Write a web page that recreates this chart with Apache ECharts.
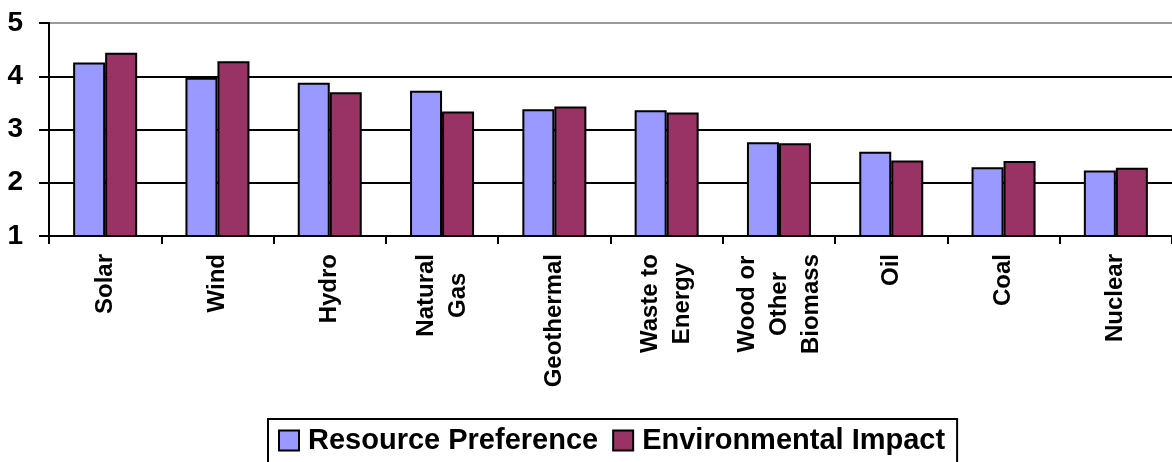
<!DOCTYPE html>
<html>
<head>
<meta charset="utf-8">
<title>Energy Resource Ratings</title>
<script src="https://cdn.jsdelivr.net/npm/echarts@6/dist/echarts.min.js"></script>
<style>
  html, body { margin: 0; padding: 0; background: #ffffff; }
  #chart { width: 1172px; height: 462px; }
</style>
</head>
<body>
<div id="chart"></div>
<script>
// Energy sources, in the order they are rated
const categories = ['Solar', 'Wind', 'Hydro', 'Natural\nGas', 'Geothermal', 'Waste to\nEnergy',
  'Wood or\nOther\nBiomass', 'Oil', 'Coal', 'Nuclear'];

// Mean ratings on a 1–5 scale
const resourcePreference = [4.26, 3.97, 3.88, 3.73, 3.38, 3.36, 2.76, 2.58, 2.29, 2.23];
const environmentalImpact = [4.44, 4.28, 3.70, 3.34, 3.43, 3.32, 2.74, 2.42, 2.41, 2.28];

const seriesNames = ['Resource Preference', 'Environmental Impact'];
const seriesColors = ['#9999ff', '#993366'];

const FONT = 'Arial, "Liberation Sans", sans-serif';

const chart = echarts.init(document.getElementById('chart'), null, { renderer: 'canvas' });

chart.setOption({
  animation: false,
  backgroundColor: '#ffffff',
  textStyle: { fontFamily: FONT },
  grid: { left: 49, top: 23, right: -10, bottom: 226, containLabel: false },
  legend: {
    left: 268,
    top: 419,
    orient: 'horizontal',
    padding: [7, 12, 30, 10],
    itemWidth: 20,
    itemHeight: 20,
    itemGap: 14,
    borderColor: '#000000',
    borderWidth: 2,
    textStyle: {
      fontFamily: FONT,
      fontSize: 29,
      fontWeight: 'bold',
      color: '#000000',
      padding: [0, 0, 0, 4]
    },
    data: seriesNames.map(n => ({ name: n, icon: 'rect' }))
  },
  xAxis: {
    type: 'category',
    data: categories,
    boundaryGap: true,
    axisLine: { show: true, lineStyle: { color: '#000000', width: 2 } },
    axisTick: { show: true, length: 8, lineStyle: { color: '#000000', width: 2 } },
    splitLine: { show: false },
    axisLabel: {
      interval: 0,
      rotate: 90,
      margin: 18,
      fontFamily: FONT,
      fontSize: 24,
      fontWeight: 'bold',
      color: '#000000',
      lineHeight: 32,
      // each line of a label is centred within its block
      formatter: value => value.split('\n').map(line => '{c|' + line + '}').join('\n'),
      rich: {
        c: {
          align: 'center',
          fontFamily: FONT,
          fontSize: 24,
          fontWeight: 'bold',
          color: '#000000',
          lineHeight: 32
        }
      }
    }
  },
  yAxis: {
    type: 'value',
    min: 1,
    max: 5,
    interval: 1,
    axisLine: { show: true, lineStyle: { color: '#000000', width: 2 } },
    axisTick: { show: true, length: 10, lineStyle: { color: '#000000', width: 2 } },
    axisLabel: {
      margin: 26,
      fontFamily: FONT,
      fontSize: 28,
      fontWeight: 'bold',
      color: '#000000'
    },
    splitLine: {
      show: true,
      lineStyle: { color: ['#000000', '#000000', '#000000', '#000000', '#999999'], width: 2 }
    }
  },
  series: [
    {
      name: seriesNames[0],
      type: 'bar',
      data: resourcePreference,
      barGap: '0%',
      barCategoryGap: '43%',
      itemStyle: { color: seriesColors[0], borderColor: '#000000', borderWidth: 2 }
    },
    {
      name: seriesNames[1],
      type: 'bar',
      data: environmentalImpact,
      barGap: '0%',
      barCategoryGap: '43%',
      itemStyle: { color: seriesColors[1], borderColor: '#000000', borderWidth: 2 }
    }
  ]
});
</script>
</body>
</html>
